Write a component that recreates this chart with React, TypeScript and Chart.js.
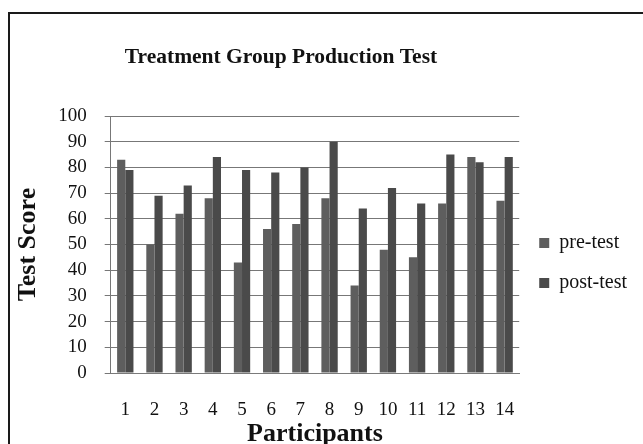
import React, { useEffect, useRef } from "react";
import { Chart, registerables } from "chart.js";

Chart.register(...registerables);

const categories = ["1", "2", "3", "4", "5", "6", "7", "8", "9", "10", "11", "12", "13", "14"];
const preTest = [83, 50, 62, 68, 43, 56, 58, 68, 34, 48, 45, 66, 84, 67];
const postTest = [79, 69, 73, 84, 79, 78, 80, 90, 64, 72, 66, 85, 82, 84];
const seriesNames = ["pre-test", "post-test"];
const chartTitle = "Treatment Group Production Test";
const xTitle = "Participants";
const yTitle = "Test Score";

const SERIF = "'Times New Roman', 'Liberation Serif', serif";

const titlePlugin = {
  id: "customTitle",
  afterLayout(chart: any) {
    const l = chart.legend;
    if (l) {
      l.bottom -= 34;
      l.height = l.bottom - l.top;
    }
  },
  afterDraw(chart: any) {
    const ctx = chart.ctx;
    ctx.save();
    ctx.font = `bold 21.5px ${SERIF}`;
    ctx.fillStyle = "#111";
    ctx.textAlign = "center";
    ctx.textBaseline = "middle";
    ctx.fillText(chartTitle, 281, 57);
    ctx.restore();
  },
};

export default function App() {
  const ref = useRef<HTMLCanvasElement>(null);
  useEffect(() => {
    if (!ref.current) return;
    const chart = new Chart(ref.current, {
      type: "bar",
      data: {
        labels: categories,
        datasets: [
          { label: seriesNames[0], data: preTest, backgroundColor: "#5e5e5e", borderWidth: 0 },
          { label: seriesNames[1], data: postTest, backgroundColor: "#4a4a4a", borderWidth: 0 },
        ],
      },
      options: {
        animation: false,
        responsive: false,
        maintainAspectRatio: false,
        layout: { padding: { top: 116, left: 13, right: 6, bottom: 0 } },
        datasets: { bar: { categoryPercentage: 0.56, barPercentage: 1 } },
        plugins: {
          title: { display: false },
          tooltip: { enabled: false },
          legend: {
            position: "right",
            labels: {
              boxWidth: 10,
              boxHeight: 10,
              padding: 20,
              color: "#111",
              font: { family: SERIF, size: 20 },
            },
          },
        },
        scales: {
          x: {
            grid: { display: false, drawTicks: false },
            border: { display: true, color: "#7a7a7a", width: 1 },
            ticks: { color: "#111", font: { family: SERIF, size: 19 }, padding: 26 },
            title: {
              display: true,
              text: xTitle,
              color: "#111",
              font: { family: SERIF, size: 26, weight: "bold" },
              padding: { top: -29, bottom: -6 },
            },
          },
          y: {
            min: 0,
            max: 100,
            ticks: {
              stepSize: 10,
              autoSkip: false,
              color: "#111",
              font: { family: SERIF, size: 19 },
              padding: 18,
            },
            grid: { color: "#777777", lineWidth: 1, tickLength: 6 },
            border: { display: true, color: "#777777", width: 1 },
            title: {
              display: true,
              text: yTitle,
              color: "#111",
              font: { family: SERIF, size: 26, weight: "bold" },
              padding: { top: 0, bottom: -4 },
            },
          },
        },
      },
      plugins: [titlePlugin],
    });
    return () => chart.destroy();
  }, []);
  return (
    <div style={{ position: "fixed", left: 0, top: 0, width: 643, height: 444, background: "#fff" }}>
      <canvas ref={ref} width={643} height={444} style={{ position: "absolute", left: 0, top: 0 }} />
      <div
        style={{
          position: "absolute",
          left: 8,
          top: 12,
          width: 643,
          height: 444,
          borderLeft: "2px solid #1a1a1a",
          borderTop: "2px solid #1a1a1a",
          pointerEvents: "none",
        }}
      />
    </div>
  );
}
